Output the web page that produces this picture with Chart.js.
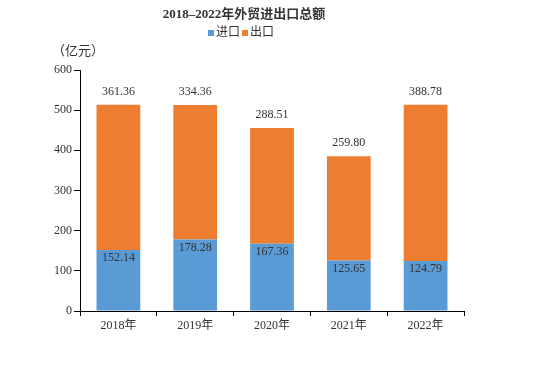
<!DOCTYPE html>
<html>
<head>
<meta charset="utf-8">
<script src="https://cdn.jsdelivr.net/npm/chart.js@4"></script>
<style>
  html, body { margin: 0; padding: 0; background: #fff; }
  #wrap { width: 538px; height: 370px; }
</style>
</head>
<body>
<div id="wrap"><canvas id="chart" width="538" height="370"></canvas></div>
<script>
const years = ['2018年', '2019年', '2020年', '2021年', '2022年'];
const importVals = [152.14, 178.28, 167.36, 125.65, 124.79];
const exportVals = [361.36, 334.36, 288.51, 259.80, 388.78];
const yTicks = [0, 100, 200, 300, 400, 500, 600];

const serif = '"Liberation Serif", "Times New Roman", "Noto Sans CJK SC", serif';
const blue = '#5B9BD5';
const orange = '#ED7D31';

// title, legend, unit and value labels
const extras = {
  id: 'extras',
  afterDatasetsDraw(chart) {
    const ctx = chart.ctx;
    ctx.save();
    ctx.fillStyle = '#333';
    ctx.textAlign = 'center';
    ctx.textBaseline = 'middle';
    ctx.font = 'bold 13px ' + serif;
    ctx.fillText('2018–2022年外贸进出口总额', 244, 15);

    ctx.font = '12px ' + serif;
    ctx.textAlign = 'left';
    ctx.fillStyle = blue;
    ctx.fillRect(208, 30, 6, 6);
    ctx.fillStyle = '#333';
    ctx.fillText('进口', 216, 33);
    ctx.fillStyle = orange;
    ctx.fillRect(242, 30, 6, 6);
    ctx.fillStyle = '#333';
    ctx.fillText('出口', 250, 33);

    ctx.font = '13px ' + serif;
    ctx.fillText('（亿元）', 52, 52);

    ctx.font = '12px ' + serif;
    ctx.textAlign = 'center';
    const imp = chart.getDatasetMeta(0).data;
    const exp = chart.getDatasetMeta(1).data;
    imp.forEach((bar, i) => {
      ctx.fillText(importVals[i].toFixed(2), bar.x, bar.y + 8);
    });
    exp.forEach((bar, i) => {
      ctx.fillText(exportVals[i].toFixed(2), bar.x, bar.y - 13);
    });
    ctx.restore();
  }
};

new Chart(document.getElementById('chart'), {
  type: 'bar',
  data: {
    labels: years,
    datasets: [
      { label: '进口', data: importVals, backgroundColor: blue, barPercentage: 0.57, categoryPercentage: 1 },
      { label: '出口', data: exportVals, backgroundColor: orange, barPercentage: 0.57, categoryPercentage: 1 }
    ]
  },
  options: {
    responsive: false,
    animation: false,
    layout: { padding: { top: 70, right: 74, left: 0, bottom: 0 } },
    plugins: {
      legend: { display: false },
      title: { display: false },
      tooltip: { enabled: false }
    },
    scales: {
      x: {
        stacked: true,
        afterFit(scale) { scale.height = 59; },
        grid: { offset: true, drawOnChartArea: false, drawTicks: true, tickLength: 5, color: '#000' },
        border: { color: '#000', width: 1 },
        ticks: { color: '#333', font: { family: serif, size: 12 }, padding: 3 }
      },
      y: {
        stacked: true,
        min: 0,
        max: 600,
        afterFit(scale) { scale.width = 80; },
        afterBuildTicks(scale) { scale.ticks = yTicks.map(v => ({ value: v })); },
        grid: { drawOnChartArea: false, drawTicks: true, tickLength: 6, color: '#000' },
        border: { color: '#000', width: 1 },
        ticks: { color: '#333', font: { family: serif, size: 12 }, padding: 2 }
      }
    }
  },
  plugins: [extras]
});
</script>
</body>
</html>
